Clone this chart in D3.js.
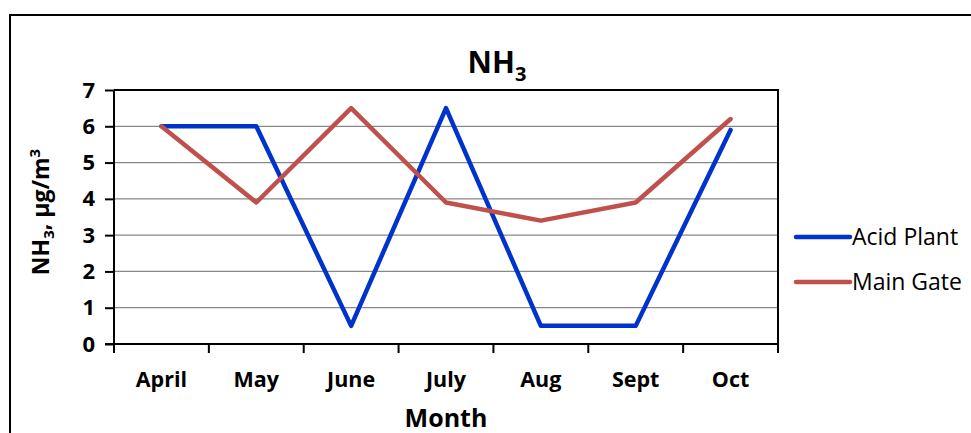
<!DOCTYPE html>
<html>
<head>
<meta charset="utf-8">
<script src="https://d3js.org/d3.v7.min.js"></script>
<style>
  body { margin: 0; background: #fff; }
  text { font-family: "Open Sans", Lato, sans-serif; }
</style>
</head>
<body>
<script>
// chart data
var months = ['April', 'May', 'June', 'July', 'Aug', 'Sept', 'Oct'];
var acidPlant = [6, 6, 0.5, 6.5, 0.5, 0.5, 5.9];
var mainGate = [6, 3.9, 6.5, 3.9, 3.4, 3.9, 6.2];
var yTicks = [0, 1, 2, 3, 4, 5, 6, 7];

var series = [
  {name: 'Acid Plant', values: acidPlant, color: '#0033cc'},
  {name: 'Main Gate', values: mainGate, color: '#c0504d'}
];

var width = 971, height = 433;
var margin = {left: 114, top: 90, right: 778, bottom: 344};

var svg = d3.select('body').append('svg')
  .attr('width', width)
  .attr('height', height);

// outer chart frame
svg.append('rect')
  .attr('x', 10).attr('y', 15)
  .attr('width', 980).attr('height', 440)
  .attr('fill', 'none')
  .attr('stroke', '#000')
  .attr('stroke-width', 2);

var x = d3.scaleBand().domain(months).range([margin.left, margin.right]);
var y = d3.scaleLinear().domain([0, 7]).range([margin.bottom, margin.top]);

// gridlines
svg.selectAll('.grid')
  .data(yTicks.slice(1, -1))
  .enter().append('line')
  .attr('x1', margin.left).attr('x2', margin.right)
  .attr('y1', d => y(d)).attr('y2', d => y(d))
  .attr('stroke', '#888')
  .attr('stroke-width', 1.3);

// plot border (top and right)
svg.append('path')
  .attr('d', 'M' + margin.left + ',' + y(7) + 'H' + margin.right + 'V' + margin.bottom)
  .attr('fill', 'none')
  .attr('stroke', '#000')
  .attr('stroke-width', 2);

// y axis
var yAxis = svg.append('g')
  .attr('transform', 'translate(' + margin.left + ',0)')
  .call(d3.axisLeft(y).tickValues(yTicks).tickSize(9).tickPadding(10).tickFormat(d3.format('d')));
yAxis.select('.domain').attr('stroke-width', 2).attr('d', 'M0,' + margin.top + 'V' + margin.bottom);
yAxis.selectAll('.tick line').attr('stroke-width', 2);
yAxis.selectAll('.tick text').attr('font-size', 22).attr('font-weight', 'bold').attr('fill', '#000');

// x axis with ticks at band edges
var xAxis = svg.append('g')
  .attr('transform', 'translate(0,' + margin.bottom + ')');
xAxis.append('line')
  .attr('x1', margin.left - 9).attr('x2', margin.right)
  .attr('stroke', '#000').attr('stroke-width', 2);
var edges = months.map(m => x(m)).concat([margin.right]);
xAxis.selectAll('.xt')
  .data(edges)
  .enter().append('line')
  .attr('x1', d => d).attr('x2', d => d)
  .attr('y1', 0).attr('y2', 9)
  .attr('stroke', '#000').attr('stroke-width', 2);
xAxis.selectAll('.xl')
  .data(months)
  .enter().append('text')
  .attr('x', d => x(d) + x.bandwidth() / 2)
  .attr('y', 43)
  .attr('text-anchor', 'middle')
  .attr('font-size', 21.5)
  .attr('font-weight', 'bold')
  .text(d => d);

// lines
var line = d3.line()
  .x((d, i) => x(months[i]) + x.bandwidth() / 2)
  .y(d => y(d));

svg.selectAll('.series')
  .data(series)
  .enter().append('path')
  .attr('d', d => line(d.values))
  .attr('fill', 'none')
  .attr('stroke', d => d.color)
  .attr('stroke-width', 4.5)
  .attr('stroke-linejoin', 'round')
  .attr('stroke-linecap', 'round');

// title
var title = svg.append('text')
  .attr('x', 497).attr('y', 73)
  .attr('text-anchor', 'middle')
  .attr('font-size', 30)
  .attr('font-weight', 'bold');
title.append('tspan').text('NH');
title.append('tspan').attr('font-size', 20).attr('dy', 8).text('3');

// axis titles
svg.append('text')
  .attr('x', 446).attr('y', 427)
  .attr('text-anchor', 'middle')
  .attr('font-size', 25)
  .attr('font-weight', 'bold')
  .text('Month');

var yTitle = svg.append('text')
  .attr('transform', 'translate(49,212) rotate(-90)')
  .attr('text-anchor', 'middle')
  .attr('font-size', 23)
  .attr('font-weight', 'bold');
yTitle.append('tspan').text('NH');
yTitle.append('tspan').attr('font-size', 15).attr('dy', 5).text('3');
yTitle.append('tspan').attr('dy', -5).text(', µg/m');
yTitle.append('tspan').attr('font-size', 15).attr('dy', -9).text('3');

// legend
var legend = svg.selectAll('.legend')
  .data(series)
  .enter().append('g')
  .attr('transform', (d, i) => 'translate(796,' + (237 + i * 45) + ')');
legend.append('line')
  .attr('x1', 0).attr('x2', 54)
  .attr('stroke', d => d.color)
  .attr('stroke-width', 4.5)
  .attr('stroke-linecap', 'round');
legend.append('text')
  .attr('x', 56).attr('y', 8)
  .attr('font-size', 23)
  .text(d => d.name);
</script>
</body>
</html>
